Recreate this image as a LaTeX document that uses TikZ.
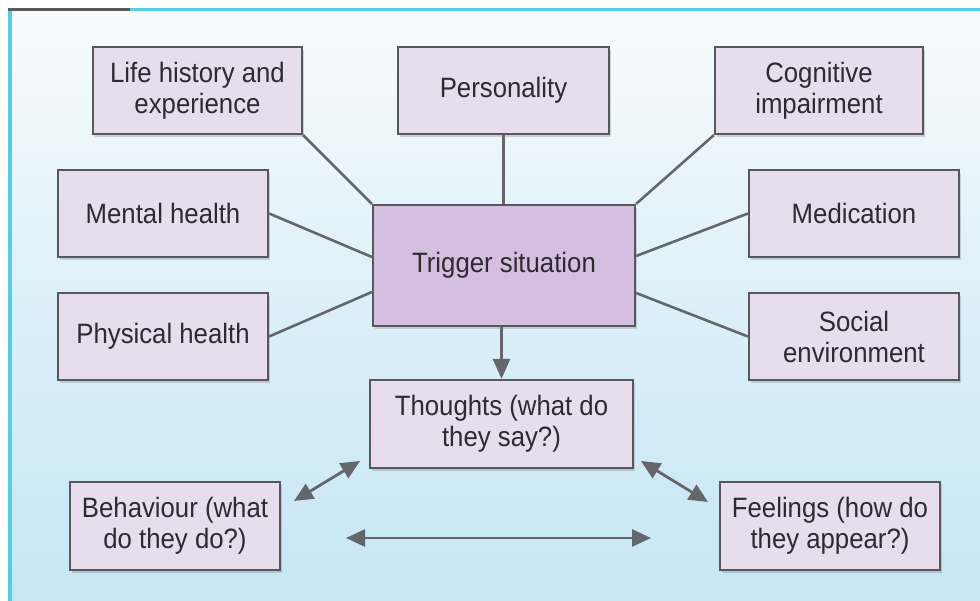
\documentclass[tikz,border=0pt]{standalone}
\usepackage{fontspec}
\setmainfont[FakeStretch=0.92]{Liberation Sans}
\usetikzlibrary{arrows.meta,shadows,calc}
\definecolor{boxfill}{HTML}{E7DDEC}
\definecolor{trigfill}{HTML}{D5BFE1}
\definecolor{boxline}{HTML}{56585E}
\definecolor{conn}{HTML}{63676C}
\definecolor{txt}{HTML}{2E2933}
\definecolor{bgtop}{HTML}{F8FBFD}
\definecolor{bgbot}{HTML}{C6E6F4}
\definecolor{cyanline}{HTML}{55CDE3}
\tikzset{
  fbox/.style={draw=boxline, line width=2.2pt, fill=boxfill, inner sep=0pt,
    align=center, text=txt, font=\fontsize{28}{31}\selectfont,
    drop shadow={shadow xshift=1.5pt, shadow yshift=-3pt, opacity=0.22, fill=black!70}},
  link/.style={draw=conn, line width=2.6pt},
  arr/.style={draw=conn, line width=2.8pt, -{Triangle[length=20pt,width=17pt]}},
  darr/.style={draw=conn, line width=2.8pt, {Triangle[length=19pt,width=17pt]}-{Triangle[length=19pt,width=17pt]}}
}
\begin{document}
\begin{tikzpicture}[x=1pt,y=-1pt]
\useasboundingbox (0,0) rectangle (980,601);
\fill[white] (0,0) rectangle (980,601);
\shade[top color=bgtop, bottom color=bgbot, middle color=bgtop!45!bgbot] (8,10) rectangle (980,601);
\fill[cyanline] (8,9) rectangle (12,601);
\fill[cyanline] (130,8.5) rectangle (980,11.5);
\fill[black!65] (8,8.5) rectangle (130,11.5);

\node[fbox, minimum width=209pt, minimum height=87pt] (life) at (197.5,90.5) {Life history and\\experience};
\node[fbox, minimum width=211pt, minimum height=87pt] (pers) at (503.5,90.5) {Personality};
\node[fbox, minimum width=208pt, minimum height=87pt] (cog) at (819,90.5) {Cognitive\\impairment};
\node[fbox, minimum width=210pt, minimum height=87pt] (mental) at (163,213.5) {Mental health};
\node[fbox, minimum width=210pt, minimum height=87pt] (medic) at (854,213.5) {Medication};
\node[fbox, minimum width=210pt, minimum height=87pt] (phys) at (163,336.5) {Physical health};
\node[fbox, minimum width=210pt, minimum height=87pt] (social) at (854,336.5) {Social\\environment};
\node[fbox, fill=trigfill, minimum width=262pt, minimum height=121pt] (trig) at (504,265.5) {Trigger situation};
\node[fbox, minimum width=263pt, minimum height=88pt] (thoughts) at (501.5,424) {Thoughts (what do\\they say?)};
\node[fbox, minimum width=210pt, minimum height=88pt] (behav) at (175,526) {Behaviour (what\\do they do?)};
\node[fbox, minimum width=220pt, minimum height=88pt] (feel) at (830,526) {Feelings (how do\\they appear?)};

\draw[link] (life.south east) -- (trig.north west);
\draw[link] (pers.south) -- (pers.south |- trig.north);
\draw[link] (cog.south west) -- (trig.north east);
\draw[link] (mental.east) -- ([yshift=8.5pt]trig.west);
\draw[link] (phys.east) -- ([yshift=-26.5pt]trig.west);
\draw[link] (medic.west) -- ([yshift=9.5pt]trig.east);
\draw[link] (social.west) -- ([yshift=-27.5pt]trig.east);
\draw[arr] (thoughts.north |- trig.south) -- (thoughts.north);

\coordinate (b1) at (294,501);
\coordinate (t1) at (360,461);
\coordinate (t2) at (641,461);
\coordinate (f1) at (708,502);
\coordinate (h1) at (346,538);
\coordinate (h2) at (651,538);
\draw[darr] (b1) -- (t1);
\draw[darr] (t2) -- (f1);
\draw[darr] (h1) -- (h2);
\end{tikzpicture}
\end{document}
